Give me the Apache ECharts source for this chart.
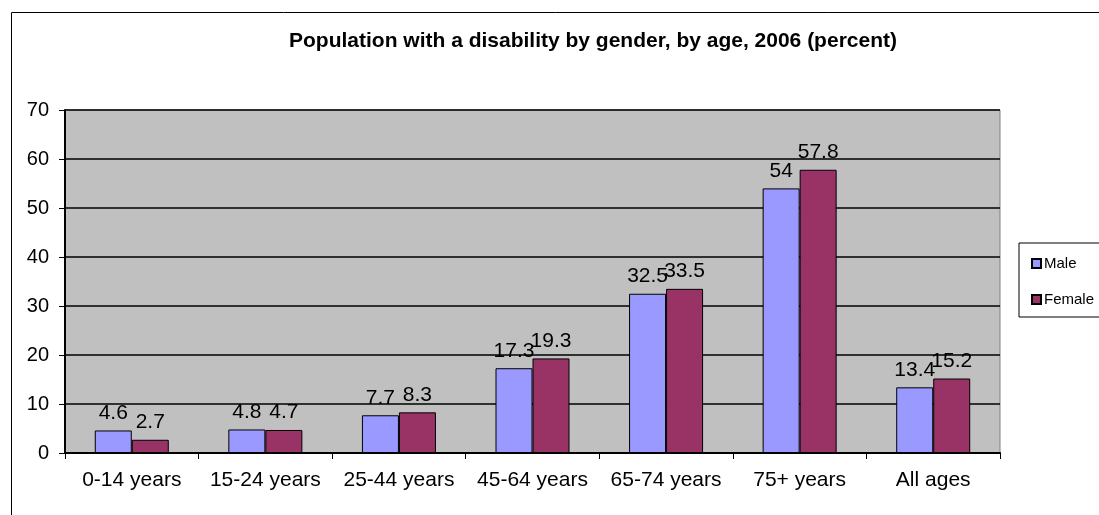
<!DOCTYPE html>
<html>
<head>
    <meta charset="utf-8"/>
    <title>ECharts</title>
    <script src="https://cdn.jsdelivr.net/npm/echarts@6/dist/echarts.min.js"></script>
    <style>
        html, body { margin: 0; padding: 0; background: #fff; }
    </style>
</head>
<body>
<div id="main" style="width: 1099px; height: 515px"></div>
<script type="text/javascript">
    // data
    var ageGroups = ['0-14 years', '15-24 years', '25-44 years', '45-64 years', '65-74 years', '75+ years', 'All ages'];
    var maleValues = [4.6, 4.8, 7.7, 17.3, 32.5, 54, 13.4];
    var femaleValues = [2.7, 4.7, 8.3, 19.3, 33.5, 57.8, 15.2];

    var font = 'Arial, "Liberation Sans", sans-serif';
    var myChart = echarts.init(document.getElementById("main"));

    var barLabel = {
        show: true,
        position: 'top',
        distance: 7,
        color: '#000',
        fontSize: 21,
        fontFamily: font
    };

    var option = {
        animation: false,
        backgroundColor: '#fff',
        title: {
            text: 'Population with a disability by gender, by age, 2006 (percent)',
            left: 289,
            top: 31,
            padding: 0,
            textStyle: {
                fontSize: 21,
                fontWeight: 'bold',
                color: '#000',
                fontFamily: font
            }
        },
        // outer frame of the chart
        graphic: [{
            type: 'rect',
            shape: {x: 11.5, y: 12.5, width: 1200, height: 600},
            style: {fill: 'none', stroke: '#000', lineWidth: 1},
            silent: true
        }],
        legend: {
            orient: 'vertical',
            left: 1019,
            top: 243,
            padding: [13, 30, 10, 12],
            itemGap: 21,
            itemWidth: 9,
            itemHeight: 9,
            borderColor: '#000',
            borderWidth: 1,
            icon: 'rect',
            textStyle: {fontSize: 15, color: '#000', fontFamily: font, padding: [0, 0, 0, -2]},
            data: ['Male', 'Female']
        },
        grid: {
            show: true,
            left: 65,
            top: 110,
            width: 935,
            height: 343,
            backgroundColor: '#C0C0C0',
            borderColor: '#808080',
            borderWidth: 1,
            containLabel: false
        },
        xAxis: {
            type: 'category',
            data: ageGroups,
            axisLine: {lineStyle: {color: '#000', width: 2}},
            axisTick: {show: true, interval: 0, alignWithLabel: false, length: 6, lineStyle: {color: '#000', width: 1}},
            axisLabel: {interval: 0, margin: 17, fontSize: 21, color: '#000', fontFamily: font}
        },
        yAxis: {
            type: 'value',
            min: 0,
            max: 70,
            interval: 10,
            axisLine: {show: true, lineStyle: {color: '#000', width: 2}},
            axisTick: {show: true, length: 6, lineStyle: {color: '#000', width: 1}},
            axisLabel: {margin: 16, fontSize: 20, color: '#000', fontFamily: font},
            splitLine: {show: true, lineStyle: {color: '#000', width: 1.5}}
        },
        series: [
            {
                name: 'Male',
                type: 'bar',
                data: maleValues,
                barWidth: 37,
                barGap: '0%',
                itemStyle: {color: '#9999FF', borderColor: '#000', borderWidth: 1},
                label: barLabel
            },
            {
                name: 'Female',
                type: 'bar',
                data: femaleValues,
                barWidth: 37,
                barGap: '0%',
                itemStyle: {color: '#993366', borderColor: '#000', borderWidth: 1},
                label: barLabel
            }
        ]
    };

    myChart.setOption(option);
</script>
</body>
</html>
